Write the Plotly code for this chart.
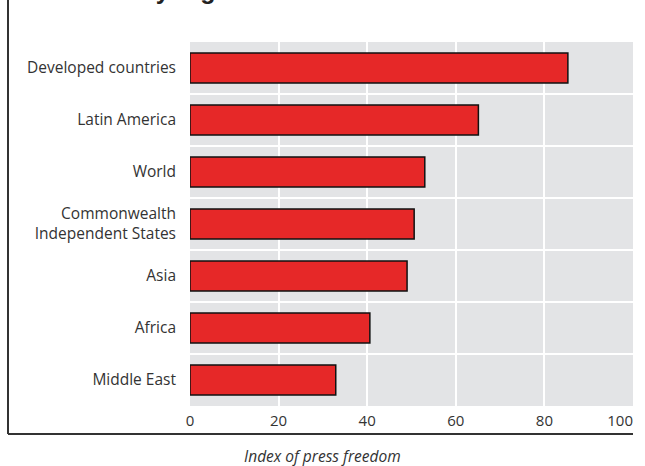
import plotly.graph_objects as go

regions = ["Developed countries", "Latin America", "World",
           "Commonwealth<br>Independent States", "Asia", "Africa", "Middle East"]
press_freedom = [85.3, 65.1, 53.0, 50.6, 49.0, 40.6, 32.9]
x_ticks = [0, 20, 40, 60, 80, 100]

W, H = 645, 466
L, R, T, B = 190, 12, 42, 60
pw, ph = W - L - R, H - T - B

def px(x):
    return (x - L) / pw

def py(y):
    return (H - B - y) / ph

fig = go.Figure()
fig.add_trace(go.Bar(
    x=press_freedom, y=regions, orientation="h",
    marker=dict(color="#E62828", line=dict(color="#111111", width=1.5)),
    width=0.58, hoverinfo="x+y",
))
# invisible helper trace so that the second x axis (last tick label) is drawn
fig.add_trace(go.Scatter(x=[x_ticks[-1]], y=[regions[-1]], xaxis="x2",
                         mode="markers", marker=dict(opacity=0), hoverinfo="skip",
                         showlegend=False))

font_fam = "Open Sans, Liberation Sans, Arial, sans-serif"
tick_font = dict(size=15, color="#333333")
fig.update_layout(
    width=W, height=H,
    margin=dict(l=L, r=R, t=T, b=B, pad=0, autoexpand=False),
    paper_bgcolor="white", plot_bgcolor="#E3E4E6",
    showlegend=False,
    font=dict(family=font_fam, size=14, color="#333333"),
    xaxis=dict(range=[0, 100], tickvals=x_ticks[:-1],
               showgrid=True, gridcolor="white", gridwidth=2, zeroline=False,
               showline=False, ticks="", ticklen=0, ticklabelstandoff=4,
               automargin=False, tickfont=tick_font),
    xaxis2=dict(range=[0, 100], tickvals=x_ticks[-1:], overlaying="x",
                side="bottom", anchor="y", showgrid=False, zeroline=False,
                showline=False, ticks="", ticklen=0, ticklabelstandoff=4,
                ticklabelposition="outside left", automargin=False,
                tickfont=tick_font),
    yaxis=dict(type="category", categoryorder="array", categoryarray=regions,
               autorange="reversed", tickson="boundaries", showgrid=True,
               gridcolor="white", gridwidth=2, zeroline=False, showline=False,
               ticks="", ticklen=0, ticklabelstandoff=13, automargin=False,
               tickfont=dict(size=15.5, color="#333333")),
    bargap=0.42,
)

# frame lines (left and bottom)
fig.add_shape(type="line", xref="paper", yref="paper",
              x0=px(8), x1=px(8), y0=py(0) + 0.05, y1=py(434),
              line=dict(color="#333333", width=2))
fig.add_shape(type="line", xref="paper", yref="paper",
              x0=px(8), x1=px(633), y0=py(434), y1=py(434),
              line=dict(color="#333333", width=2))

# axis title
fig.add_annotation(text="<i>Index of press freedom</i>", xref="paper", yref="paper",
                   x=px(322), y=py(456), xanchor="center", yanchor="middle",
                   showarrow=False, font=dict(size=15.5, color="#333333", family=font_fam))

# title (mostly cut off above the frame)
fig.add_annotation(text="<b>Freedom by region</b>", xref="paper", yref="paper",
                   x=px(26), y=py(6), xanchor="left", yanchor="bottom",
                   showarrow=False, font=dict(size=25, color="#222222",
                                              family="Liberation Sans, Arial, sans-serif"))

fig.write_html("out.html", config={"displayModeBar": False},
               post_script="document.body.style.margin='0';")
